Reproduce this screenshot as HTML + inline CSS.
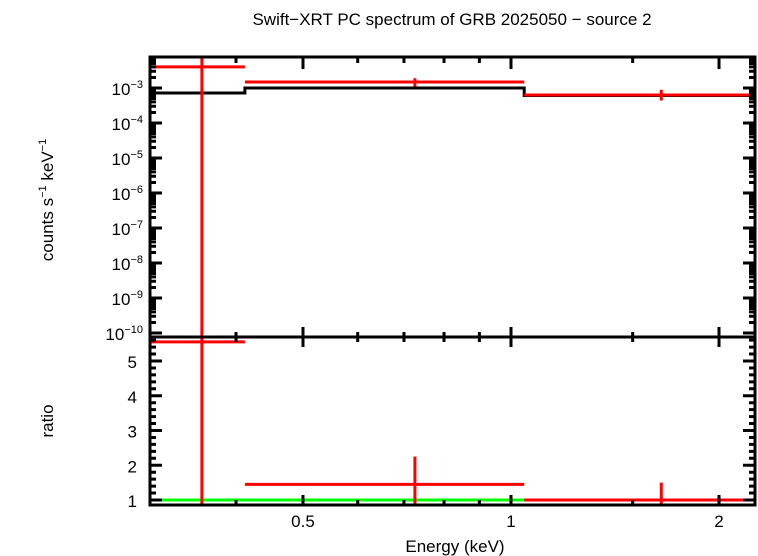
<!DOCTYPE html>
<html><head><meta charset="utf-8"><style>
html,body{margin:0;padding:0;background:#fff;}
svg{display:block;font-family:"Liberation Sans",sans-serif;}
</style></head><body>
<svg id="c" width="758" height="556" viewBox="0 0 758 556" xmlns="http://www.w3.org/2000/svg"></svg>
<script>
// data
const binLo = [0.30, 0.412, 1.045];
const binHi = [0.412, 1.045, 2.25];
const binCenter = [0.357, 0.726, 1.65];
const dataVal = [4.0e-3, 1.48e-3, 6.3e-4];
const dataErrLo = [1e-11, 1.1e-3, 4.4e-4];
const dataErrHi = [8.2e-3, 1.9e-3, 8.9e-4];
const modelVal = [7.2e-4, 1.0e-3, 6.1e-4];
const ratioVal = [5.55, 1.45, 1.0];
const ratioErrLo = [0.8, 0.8, 0.8];
const ratioErrHi = [5.7, 2.25, 1.5];
const yTopTicks = [-3,-4,-5,-6,-7,-8,-9,-10];
const yBotTicks = [1,2,3,4,5];
const xMajor = [0.5, 1, 2];
const xMajorLabels = ["0.5","1","2"];
const xMinor = [0.4,0.6,0.7,0.8,0.9,1.5];

const svg = document.getElementById('c');
const NS = 'http://www.w3.org/2000/svg';
const L=150,R=755,T=57,M=337,B=505;
function X(e){return 511+691*Math.log10(e);}
function YT(v){return 88-35*(Math.log10(v)+3);}
function YB(v){return 500-34.75*(v-1);}
function add(tag,attrs,text){const el=document.createElementNS(NS,tag);for(const k in attrs)el.setAttribute(k,attrs[k]);if(text!==undefined)el.textContent=text;svg.appendChild(el);return el;}
function clampT(y){return Math.max(T,Math.min(M,y));}
function clampB(y){return Math.max(M,Math.min(B,y));}

let el;
el=add('text',{x:452,y:25,'text-anchor':'middle','font-size':17},'Swift\u2212XRT PC spectrum of GRB 2025050 \u2212 source 2');



// model histogram
let d='';
for(let i=0;i<modelVal.length;i++){const y=YT(modelVal[i]);d+=(i?'L':'M')+X(binLo[i])+' '+y+'L'+X(binHi[i])+' '+y;}
el=add('path',{d:d,fill:'none',stroke:'#000','stroke-width':3});



// data points
for(let i=0;i<dataVal.length;i++){
  const g=add('g',{stroke:'#f00','stroke-width':3});
  
  
  const y=clampT(YT(dataVal[i]));
  const h=document.createElementNS(NS,'line');h.setAttribute('x1',X(binLo[i]));h.setAttribute('x2',X(binHi[i]));h.setAttribute('y1',y);h.setAttribute('y2',y);g.appendChild(h);
  const v=document.createElementNS(NS,'line');const xc=X(binCenter[i]);v.setAttribute('x1',xc);v.setAttribute('x2',xc);v.setAttribute('y1',clampT(YT(dataErrHi[i])));v.setAttribute('y2',clampT(YT(dataErrLo[i])));g.appendChild(v);
}
// ratio
el=add('line',{x1:L,x2:R,y1:YB(1),y2:YB(1),stroke:'#0f0','stroke-width':3});


for(let i=0;i<ratioVal.length;i++){
  const g=add('g',{stroke:'#f00','stroke-width':3});
  
  
  const y=clampB(YB(ratioVal[i]));
  const h=document.createElementNS(NS,'line');h.setAttribute('x1',X(binLo[i]));h.setAttribute('x2',X(binHi[i]));h.setAttribute('y1',y);h.setAttribute('y2',y);g.appendChild(h);
  const v=document.createElementNS(NS,'line');const xc=X(binCenter[i]);v.setAttribute('x1',xc);v.setAttribute('x2',xc);v.setAttribute('y1',clampB(YB(ratioErrHi[i])));v.setAttribute('y2',clampB(YB(ratioErrLo[i])));g.appendChild(v);
}

// frames
el=add('rect',{x:L,y:T,width:R-L,height:B-T,fill:'none',stroke:'#000','stroke-width':3});


el=add('line',{x1:L,x2:R,y1:M,y2:M,stroke:'#000','stroke-width':3});



// ticks
let td='';
for(const e of xMajor){const x=X(e);td+=`M${x} ${T}v12M${x} ${M-10}v20M${x} ${B}v-10`;}
for(const e of xMinor){const x=X(e);td+=`M${x} ${T}v6M${x} ${M-5}v10M${x} ${B}v-5`;}
for(const p of yTopTicks){const y=YT(Math.pow(10,p));td+=`M${L} ${y}h12M${R} ${y}h-12`;
  for(let k=2;k<10;k++){const yy=YT(k*Math.pow(10,p));if(yy>T&&yy<M)td+=`M${L} ${yy}h6M${R} ${yy}h-6`;}}
for(let k=2;k<10;k++){const yy=YT(k*1e-3);if(yy>T)td+=`M${L} ${yy}h6M${R} ${yy}h-6`;}
for(const v of yBotTicks){const y=YB(v);td+=`M${L} ${y}h12M${R} ${y}h-12`;}
for(let v=1;v<5.7;v+=0.2){const y=YB(v);if(y>M)td+=`M${L} ${y}h6M${R} ${y}h-6`;}
el=add('path',{d:td,stroke:'#000','stroke-width':3,fill:'none'});



// labels
yTopTicks.forEach(p=>{const y=YT(Math.pow(10,p));
  const t=add('text',{x:143,y:y+7,'text-anchor':'end','font-size':17});
  
  
  const a=document.createElementNS(NS,'tspan');a.textContent='10';t.appendChild(a);
  const b=document.createElementNS(NS,'tspan');b.setAttribute('dy','-7');b.setAttribute('font-size','11');b.textContent='\u2212'+(-p);t.appendChild(b);
});
yBotTicks.forEach(v=>{const t=add('text',{x:137,y:YB(v)+7,'text-anchor':'end','font-size':17},String(v));
  
  });
xMajor.forEach((e,i)=>{const t=add('text',{x:X(e),y:527,'text-anchor':'middle','font-size':17},xMajorLabels[i]);
  
  });
el=add('text',{x:455,y:552,'text-anchor':'middle','font-size':17},'Energy (keV)');


el=add('text',{x:0,y:0,'text-anchor':'middle','font-size':17,transform:'translate(53,200) rotate(-90)'});


el.innerHTML='counts s<tspan dy="-7" font-size="11">\u22121</tspan><tspan dy="7"> keV</tspan><tspan dy="-7" font-size="11">\u22121</tspan>';
el=add('text',{x:0,y:0,'text-anchor':'middle','font-size':17,transform:'translate(53,421) rotate(-90)'},'ratio');


</script>
</body></html>
